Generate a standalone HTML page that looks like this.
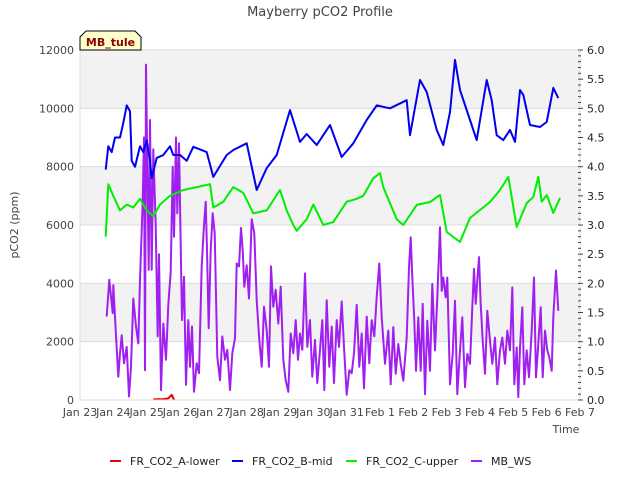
<!DOCTYPE html>
<html><head><meta charset="utf-8"><style>
body{margin:0;background:#fff;}
svg text{font-family:"DejaVu Sans","Liberation Sans",sans-serif;}
</style></head><body>
<svg id="chart" width="640" height="480" viewBox="0 0 640 480" xmlns="http://www.w3.org/2000/svg">
<text x="320" y="16" text-anchor="middle" font-size="13" fill="#444">Mayberry pCO2 Profile</text>
<g id="bg"></g>
<g id="grid"></g>
<g id="series"></g>
<g id="axes"></g>
<text x="0" y="0" transform="translate(18,225) rotate(-90)" text-anchor="middle" font-size="11" fill="#444">pCO2 (ppm)</text>
<text x="566" y="433" text-anchor="middle" font-size="11" fill="#444">Time</text>
<g>
<polygon points="80,50 80,37 86,31 135,31 141,37 141,50" fill="#ffffcc" stroke="#000" stroke-width="1"/>
<text x="110.5" y="46" text-anchor="middle" font-size="11" font-weight="bold" fill="#8b0000">MB_tule</text>
</g>
<g id="legend"></g>
</svg>
<script>
const xTickLabels=["Jan 23","Jan 24","Jan 25","Jan 26","Jan 27","Jan 28","Jan 29","Jan 30","Jan 31","Feb 1","Feb 2","Feb 3","Feb 4","Feb 5","Feb 6","Feb 7"];
const yTicks=[0,2000,4000,6000,8000,10000,12000];
const y2Ticks=["0.0","0.5","1.0","1.5","2.0","2.5","3.0","3.5","4.0","4.5","5.0","5.5","6.0"];
const redT=[2.2,2.5,2.65,2.75,2.8,2.83];
const redV=[20,30,60,180,60,0];
const blueT=[0.77,0.85,0.95,1.05,1.2,1.3,1.4,1.5,1.55,1.65,1.8,1.9,2.0,2.1,2.15,2.3,2.5,2.7,2.8,3.0,3.2,3.4,3.8,4.0,4.4,4.6,5.0,5.3,5.6,5.9,6.3,6.6,6.8,7.1,7.5,7.85,8.2,8.6,8.9,9.3,9.8,9.9,10.2,10.4,10.7,10.9,11.1,11.25,11.4,11.7,11.9,12.2,12.35,12.5,12.7,12.9,13.05,13.2,13.3,13.5,13.8,14.0,14.2,14.35];
const blueV=[7900,8700,8500,9000,9000,9500,10100,9900,8200,8000,8700,8500,8900,8200,7600,8300,8400,8700,8400,8400,8200,8680,8500,7650,8400,8570,8800,7200,7950,8400,9940,8850,9120,8740,9430,8330,8800,9600,10100,10000,10280,9080,10970,10560,9260,8740,9870,11660,10630,9600,8910,10970,10280,9080,8910,9260,8850,10630,10460,9430,9360,9530,10700,10350];
const greenT=[0.77,0.85,1.0,1.2,1.4,1.6,1.8,2.0,2.2,2.4,2.7,3.1,3.5,3.9,4.0,4.3,4.6,4.9,5.2,5.6,6.0,6.2,6.4,6.5,6.8,7.0,7.3,7.6,8.0,8.3,8.5,8.8,9.0,9.1,9.5,9.7,10.1,10.5,10.8,11.0,11.4,11.7,12.3,12.6,12.85,13.1,13.4,13.6,13.75,13.85,14.0,14.2,14.4];
const greenV=[5600,7400,7000,6500,6700,6600,6900,6500,6300,6700,7000,7200,7300,7400,6600,6800,7300,7100,6400,6500,7200,6500,6000,5800,6200,6700,6000,6100,6800,6900,7000,7600,7780,7300,6200,6000,6690,6790,7030,5760,5420,6240,6790,7200,7650,5930,6750,6960,7650,6800,7030,6410,6930];
const purpleT=[0.80,0.88,0.98,1.0,1.07,1.15,1.2,1.25,1.32,1.40,1.47,1.53,1.6,1.68,1.75,1.8,1.88,1.92,1.95,1.98,2.02,2.06,2.1,2.15,2.2,2.27,2.33,2.37,2.43,2.5,2.58,2.65,2.72,2.78,2.82,2.88,2.92,2.97,3.02,3.06,3.12,3.18,3.25,3.3,3.36,3.42,3.5,3.57,3.65,3.72,3.77,3.81,3.86,3.92,3.98,4.04,4.12,4.2,4.27,4.35,4.42,4.5,4.57,4.65,4.7,4.77,4.83,4.88,4.93,5.0,5.07,5.15,5.23,5.3,5.38,5.45,5.52,5.6,5.67,5.73,5.8,5.87,5.95,6.02,6.1,6.17,6.25,6.32,6.4,6.47,6.54,6.6,6.67,6.75,6.82,6.9,6.97,7.05,7.12,7.2,7.27,7.33,7.4,7.48,7.55,7.62,7.7,7.77,7.85,7.92,8.0,8.08,8.15,8.22,8.3,8.38,8.45,8.52,8.6,8.68,8.75,8.83,8.9,8.98,9.05,9.15,9.25,9.32,9.4,9.47,9.55,9.62,9.7,9.8,9.87,9.92,9.97,10.03,10.08,10.15,10.22,10.28,10.35,10.42,10.5,10.57,10.65,10.72,10.8,10.85,10.9,10.97,11.02,11.1,11.18,11.25,11.32,11.4,11.47,11.55,11.62,11.7,11.77,11.82,11.87,11.92,11.97,12.02,12.08,12.15,12.22,12.3,12.37,12.45,12.52,12.6,12.67,12.75,12.82,12.9,12.97,13.03,13.1,13.15,13.2,13.27,13.33,13.4,13.47,13.55,13.62,13.68,13.75,13.82,13.88,13.95,14.02,14.08,14.15,14.2,14.28,14.35];
const purpleV=[1.43,2.06,1.49,1.97,1.2,0.4,0.8,1.11,0.63,0.91,0.06,0.57,1.74,1.26,0.97,2.06,3.4,4.5,0.51,5.75,4.0,2.23,4.8,2.23,4.3,3.0,1.09,2.5,0.17,1.31,0.69,1.63,2.2,4.0,2.8,4.5,3.2,4.4,2.66,1.37,2.11,0.26,1.37,0.57,1.26,0.14,0.63,0.46,2.29,3.0,3.4,2.57,1.23,2.57,3.2,2.86,0.74,0.34,1.09,0.69,0.86,0.17,0.8,1.06,2.34,2.29,2.95,2.57,1.94,2.31,1.74,3.1,2.86,1.71,1.03,0.57,1.6,1.2,0.57,2.29,1.6,1.89,1.31,1.94,0.69,0.34,0.14,1.14,0.8,1.37,0.69,1.14,0.86,2.17,0.91,1.37,0.4,1.03,0.29,0.86,1.37,0.17,1.71,0.57,1.26,0.29,1.37,0.91,1.69,0.91,0.09,0.51,0.46,0.8,1.63,0.57,1.14,0.2,1.43,0.63,1.37,1.09,1.77,2.34,1.42,0.62,1.19,0.27,1.25,0.45,0.96,0.62,0.33,1.07,2.27,2.79,2.1,1.36,0.5,1.42,0.5,1.65,0.1,1.36,0.5,1.99,0.85,1.76,2.96,1.87,2.1,1.76,2.1,0.27,0.79,1.7,0.1,0.85,1.42,0.22,0.79,0.62,1.59,2.25,1.65,2.05,2.45,1.65,1.02,0.45,1.53,1.02,0.62,1.07,0.27,0.85,1.07,0.62,1.19,0.85,1.93,0.27,0.9,0.05,0.9,1.59,0.27,0.85,0.39,1.19,2.1,0.39,0.96,1.59,0.39,1.19,0.85,0.73,0.5,1.42,2.22,1.53];

const NS="http://www.w3.org/2000/svg";
const L=80,R=580,T=50,B=400;
const xs=d=>L+(R-L)*d/15;
const ys=v=>B-(B-T)*v/12000;
const ys2=v=>B-(B-T)*v/6;
function mk(tag,attrs,parent){const e=document.createElementNS(NS,tag);for(const k in attrs)e.setAttribute(k,attrs[k]);parent.appendChild(e);return e;}
const bg=document.getElementById('bg'),grid=document.getElementById('grid'),axes=document.getElementById('axes'),ser=document.getElementById('series'),leg=document.getElementById('legend');
mk('rect',{x:L,y:T,width:R-L,height:B-T,fill:'#ffffff'},bg);
for(let i=0;i<yTicks.length-1;i++){
  if(i%2===1){const r=mk('rect',{x:L,y:ys(yTicks[i+1]),width:R-L,height:ys(yTicks[i])-ys(yTicks[i+1]),fill:'#f2f2f2'},bg);
  
  }
}
yTicks.forEach(v=>{
  const g=mk('line',{x1:L,x2:R,y1:ys(v),y2:ys(v),stroke:'#dcdcdc','stroke-width':1},grid);
  
  
  const t=mk('text',{x:L-6,y:ys(v)+4,'text-anchor':'end','font-size':11,fill:'#444'},axes);
  t.textContent=v;
  
  
});
mk('line',{x1:L,x2:L,y1:T,y2:B,stroke:'#dcdcdc'},axes);
mk('line',{x1:L,x2:R,y1:B,y2:B,stroke:'#dcdcdc'},axes);
mk('line',{x1:R,x2:R,y1:T,y2:B,stroke:'#dcdcdc'},axes);
xTickLabels.forEach((s,i)=>{
  const t=mk('text',{x:xs(i),y:416,'text-anchor':'middle','font-size':11,fill:'#444'},axes);
  t.textContent=s;
  
  
});
for(let k=0;k<=60;k++){
  const v=k/10;
  mk('line',{x1:R-2,x2:R+(k%5===0?3:1),y1:ys2(v),y2:ys2(v),stroke:'#444','stroke-width':1},axes);
}
y2Ticks.forEach(s=>{
  const t=mk('text',{x:587,y:ys2(parseFloat(s))+4,'font-size':11,fill:'#222'},axes);
  t.textContent=s;
  
  
});
function line(T_,V_,f,color,name){
  const d=T_.map((t,i)=>(i?'L':'M')+xs(t).toFixed(1)+','+f(V_[i]).toFixed(1)).join('');
  const p=mk('path',{d:d,fill:'none',stroke:color,'stroke-width':2,'stroke-linejoin':'round'},ser);
  
  
}
line(purpleT,purpleV,ys2,'#a020f0','series-mb-ws');
line(greenT,greenV,ys,'#00ee00','series-fr-co2-c-upper');
line(blueT,blueV,ys,'#0000ee','series-fr-co2-b-mid');
line(redT,redV,ys,'#ee0000','series-fr-co2-a-lower');
const legItems=[["FR_CO2_A-lower","#ee0000",110],["FR_CO2_B-mid","#0000ee",232],["FR_CO2_C-upper","#00ee00",346],["MB_WS","#a020f0",471]];
legItems.forEach(it=>{
  const g=mk('g',{},leg);
  
  
  mk('line',{x1:it[2],x2:it[2]+11,y1:461,y2:461,stroke:it[1],'stroke-width':2},g);
  const t=mk('text',{x:it[2]+20,y:465,'font-size':11,fill:'#222'},g);
  t.textContent=it[0];
});
</script>
</body></html>
